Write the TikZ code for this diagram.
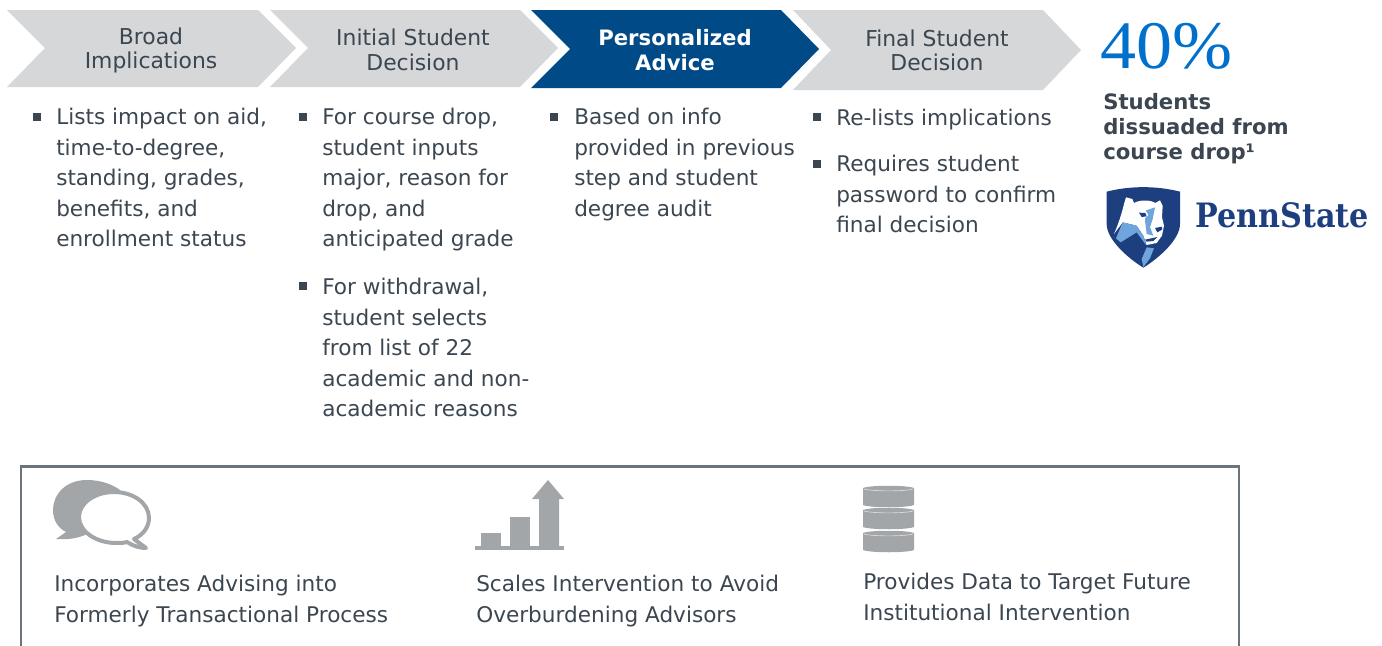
\documentclass[tikz,border=0pt]{standalone}
\usepackage{fontspec}
\setmainfont{DejaVu Sans}
\newfontfamily\bigfigure[FakeStretch=1.06]{Liberation Serif}
\newfontfamily\logofont{DejaVu Serif Condensed}
\definecolor{chevgray}{HTML}{D5D7D9}
\definecolor{navy}{HTML}{004A87}
\definecolor{inkgray}{HTML}{3B4650}
\definecolor{framegray}{HTML}{6B747C}
\definecolor{icongray}{HTML}{A2A6A9}
\definecolor{bigblue}{HTML}{0070CC}
\definecolor{psunavy}{HTML}{1E3F7F}
\definecolor{psulight}{HTML}{6FA4DC}
\tikzset{
  chevlabel/.style={align=center,inner sep=0pt,text=inkgray,font=\fontsize{16.4}{18.4}\selectfont},
  itemtext/.style={anchor=north west,align=left,inner sep=0pt,text=inkgray,font=\fontsize{16.2}{22.9}\selectfont,execute at begin node=\strut},
  itembox/.style={fill=inkgray,minimum size=5.4pt,inner sep=0pt}
}
\begin{document}
\begin{tikzpicture}[x=0.75pt,y=-0.75pt]
\useasboundingbox (0,0) rectangle (1382,646);
% process arrows
\fill[chevgray] (7,10)--(258,10)--(296,48)--(258,87)--(7,87)--(45,48)--cycle;
\fill[chevgray] (270,10)--(520,10)--(558,48)--(520,87)--(270,87)--(308,48)--cycle;
\fill[navy] (531,10)--(781,10)--(819,49)--(781,88)--(531,88)--(570,49)--cycle;
\fill[chevgray] (793,10)--(1043,10)--(1081,50)--(1043,90)--(793,90)--(831,50)--cycle;
\node[chevlabel] (broad) at (151,50.5) {Broad\\Implications};
\node[chevlabel] (initial) at (413,50) {Initial Student\\Decision};
\node[chevlabel,text=white,font=\fontsize{15.9}{18.4}\selectfont\bfseries] (advice) at (675,50) {Personalized\\Advice};
\node[chevlabel] (final) at (937,50.5) {Final Student\\Decision};
% columns
\node[itembox] (b1) at (37,117) {};
\node[itemtext] (broadtext) at (56,108) {Lists impact on aid,\\time-to-degree,\\standing, grades,\\benefits, and\\enrollment status};
\node[itembox] (b2) at (303,117) {};
\node[itemtext] (droptext) at (322,108) {For course drop,\\student inputs\\major, reason for\\drop, and\\anticipated grade};
\node[itembox] (b3) at (303,286) {};
\node[itemtext] (withdrawtext) at (322,278) {For withdrawal,\\student selects\\from list of 22\\academic and non-\\academic reasons};
\node[itembox] (b4) at (554,117) {};
\node[itemtext] (basedtext) at (574,108) {Based on info\\provided in previous\\step and student\\degree audit};
\node[itembox] (b5) at (817,117) {};
\node[itemtext] (relisttext) at (836,103.5) {Re-lists implications};
\node[itembox] (b6) at (817,164) {};
\node[itemtext] (passwordtext) at (836,155) {Requires student\\password to confirm\\final decision};
% result
\node[anchor=west,inner sep=0pt,text=bigblue,font=\fontsize{51}{51}\selectfont\bigfigure] (percent) at (1100,46) {40\%};
\node[anchor=north west,align=left,inner sep=0pt,text=inkgray,font=\fontsize{15.9}{18.8}\selectfont\bfseries] (dissuaded) at (1103,93) {Students\\dissuaded from\\course drop¹};
% logo
\begin{scope}[shift={(1100,179)},x=0.25pt,y=-0.25pt]
\fill[psunavy] (20,38) .. controls (90,20) and (170,20) .. (240,38)
  -- (240,135) .. controls (240,180) and (180,235) .. (130,266)
  .. controls (80,235) and (20,180) .. (20,135) -- cycle;
\fill[white] (42,165) .. controls (55,135) and (65,105) .. (72,75) -- (78,55) -- (97,60) -- (102,72)
  .. controls (120,62) and (150,62) .. (166,72) -- (180,64) -- (188,80) -- (186,115)
  -- (192,140) -- (186,170) -- (170,192) -- (140,198) -- (130,170) -- (110,140) -- (68,130) -- cycle;
\fill[psulight] (48,178) -- (68,130) -- (110,140) -- (130,170) -- (138,198) -- (110,160) -- (62,190) -- cycle;
\fill[psulight] (125,240) -- (140,205) -- (162,208) -- (150,238) -- (130,264) -- cycle;
\fill[psulight] (135,95) -- (165,85) -- (158,120) -- (150,145) -- (160,170) -- (140,165) -- (135,125) -- cycle;
\fill[white] (115,95) -- (135,92) -- (145,108) -- (130,122) -- (112,115) -- cycle;
\fill[psunavy] (117,101) -- (136,102) -- (140,112) -- (125,114) -- cycle;
\fill[psunavy] (165,147) -- (186,143) -- (186,152) -- (172,160) -- cycle;
\fill[psunavy] (135,182) -- (172,174) -- (160,186) -- (140,188) -- cycle;
\end{scope}
\node[anchor=west,inner sep=0pt,text=psunavy,font=\fontsize{25.2}{25.2}\selectfont\logofont\bfseries] (pennstate) at (1195,215) {PennState};
% lower box
\draw[framegray,line width=2.2pt] (21,646)--(21,466.5)--(1239,466.5)--(1239,646);
% speech bubbles
\fill[icongray] (87,480) .. controls (65,480) and (53,495) .. (53,510) .. controls (53,520) and (58,528) .. (66,532)
  -- (56,539) .. controls (68,540) and (78,538) .. (85,535) -- (120,510) -- (120,490) .. controls (112,484) and (100,480) .. (87,480) -- cycle;
\filldraw[fill=white,draw=icongray,line width=3pt,line join=round] (114,492) .. controls (95,492) and (79,503) .. (79,517)
  .. controls (79,532) and (97,543) .. (116,543) .. controls (120,543) and (124,543) .. (127,542)
  .. controls (133,546) and (140,548) .. (146,548) -- (134,539) .. controls (143,535) and (149,527) .. (149,518)
  .. controls (149,503) and (133,492) .. (114,492) -- cycle;
% bar chart
\fill[icongray] (475,546) rectangle (564,550);
\fill[icongray] (481,533) rectangle (501,547);
\fill[icongray] (510,517) rectangle (530,547);
\fill[icongray] (539,547)--(539,499)--(532,499)--(548,480)--(564,499)--(559,499)--(559,547)--cycle;
% database
\foreach \ytop in {486,508,531}{
  \fill[icongray] (863,\ytop+2) .. controls (870,\ytop-1) and (907,\ytop-1) .. (914,\ytop+2) -- (914,\ytop+19) .. controls (907,\ytop+22) and (870,\ytop+22) .. (863,\ytop+19) -- cycle;
  \draw[white,opacity=0.6,line width=0.5pt] (864,\ytop+3) .. controls (872,\ytop+5.5) and (905,\ytop+5.5) .. (913,\ytop+3);
}
% captions
\node[itemtext] (advising) at (54,575) {Incorporates Advising into\\Formerly Transactional Process};
\node[itemtext] (scales) at (476,575) {Scales Intervention to Avoid\\Overburdening Advisors};
\node[itemtext] (provides) at (863,573) {Provides Data to Target Future\\Institutional Intervention};
\end{tikzpicture}
\end{document}
